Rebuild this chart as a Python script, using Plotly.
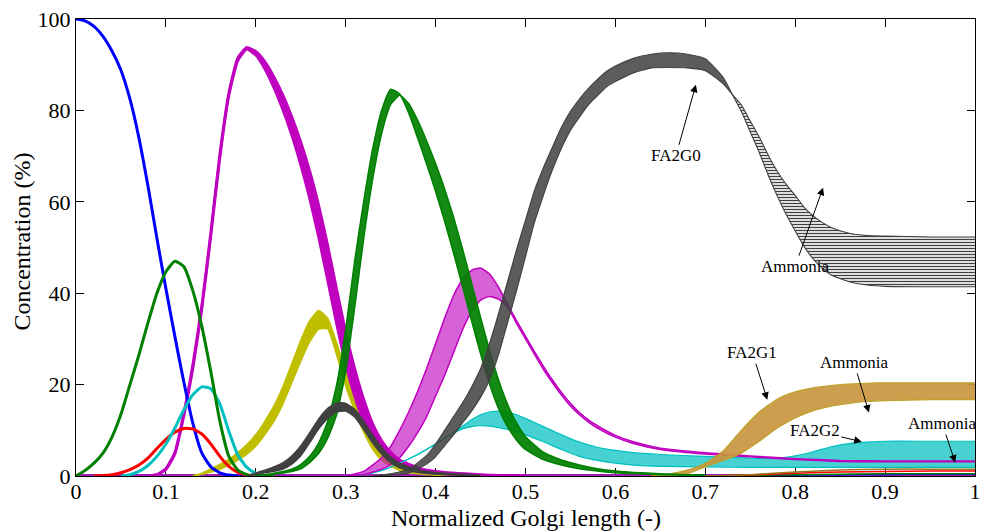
import plotly.graph_objects as go

# ---------------- data ----------------
blue_x = [0, 0.01, 0.02, 0.03, 0.04, 0.05, 0.06, 0.07, 0.08, 0.09, 0.10, 0.11, 0.12, 0.13, 0.14, 0.15, 0.16, 0.17, 0.18, 0.20]
blue_y = [100, 99.6, 98.4, 96.2, 93, 88.8, 82.5, 74, 63.5, 52, 41, 30.5, 20.5, 11.5, 5, 2, 0.7, 0.2, 0, 0]

green1_x = [0, 0.01, 0.02, 0.03, 0.04, 0.05, 0.06, 0.07, 0.08, 0.09, 0.10, 0.11, 0.12, 0.13, 0.14, 0.15, 0.16, 0.17, 0.18, 0.19, 0.20, 0.22]
green1_y = [0, 1.2, 2.8, 5, 8.5, 13.5, 20, 26.5, 33.5, 40, 44.7, 47, 45.8, 40.5, 32.7, 22.8, 12, 4.3, 1.3, 0.3, 0, 0]

red_x = [0.02, 0.03, 0.04, 0.05, 0.06, 0.07, 0.08, 0.09, 0.10, 0.11, 0.12, 0.13, 0.14, 0.15, 0.16, 0.17, 0.18, 0.19, 0.20]
red_y = [0, 0.1, 0.3, 0.7, 1.4, 2.4, 3.9, 6, 8, 9.6, 10.4, 10.3, 9.2, 7, 4.3, 2.1, 0.8, 0.2, 0]

cyan1_x = [0.05, 0.06, 0.07, 0.08, 0.09, 0.10, 0.11, 0.12, 0.13, 0.14, 0.15, 0.16, 0.17, 0.18, 0.19, 0.20, 0.21, 0.22]
cyan1_y = [0, 0.3, 1, 2.3, 4.3, 7, 10.5, 14.5, 17.8, 19.5, 19.1, 15.8, 9.8, 4.6, 1.9, 0.6, 0.1, 0]

mag1_x = [0.08, 0.09, 0.10, 0.11, 0.12, 0.13, 0.14, 0.15, 0.16, 0.17, 0.18, 0.19, 0.20, 0.21, 0.22, 0.23, 0.24,
          0.25, 0.26, 0.27, 0.28, 0.29, 0.30, 0.31, 0.32, 0.33, 0.34, 0.35, 0.36, 0.38, 0.40, 0.45, 0.50]
mag1_hi = [0, 0.3, 1.6, 5.2, 13.8, 24.4, 37.4, 53.4, 70.4, 83.8, 91.5, 93.8, 92.9, 90.7, 87.4, 83.4, 78.6,
           73.1, 66.7, 59.2, 50.4, 40.8, 31.5, 23.5, 16.8, 11.4, 7.7, 5.2, 3.5, 1.8, 1.0, 0.3, 0]
mag1_lo = [0, 0.3, 1.4, 4.8, 13.2, 23.6, 36.6, 52.6, 69.6, 83.2, 90.9, 93.4, 92.1, 89.1, 85, 80.2, 74.6,
           68.1, 60.7, 52.2, 42.8, 33.2, 24.5, 17.5, 11.8, 7.8, 5.1, 3.4, 2.3, 1.1, 0.6, 0.1, 0]

yel_x = [0.13, 0.14, 0.15, 0.16, 0.17, 0.18, 0.19, 0.20, 0.21, 0.22, 0.23, 0.24, 0.25, 0.26, 0.27, 0.28,
         0.29, 0.30, 0.31, 0.32, 0.33, 0.34, 0.35, 0.36, 0.38, 0.40, 0.45]
yel_hi = [0, 0.6, 1.5, 2.5, 3.6, 5.1, 6.8, 9, 11.9, 15.2, 19.4, 24.5, 29.6, 33.9, 36.2, 34.4,
          29, 22.8, 17.2, 12.1, 7.9, 5, 3.2, 2.1, 0.9, 0.4, 0]
yel_lo = [0, 0.4, 0.9, 1.5, 2.4, 3.5, 4.8, 6.6, 9.1, 12, 15.8, 20.5, 25.2, 29.4, 32.2, 32.2,
          26.6, 19.8, 14.4, 9.7, 5.9, 3.5, 2.2, 1.3, 0.5, 0.2, 0]

grey1_x = [0.19, 0.20, 0.21, 0.22, 0.23, 0.24, 0.25, 0.26, 0.27, 0.28, 0.29, 0.30, 0.31, 0.32, 0.33, 0.34,
           0.35, 0.36, 0.38, 0.40, 0.45]
grey1_hi = [0, 0.7, 1.3, 2, 2.9, 4.4, 6.6, 9.5, 12.5, 14.8, 16, 15.9, 14.6, 12, 9, 6.3, 4.2, 2.8, 1.4, 0.8, 0.2]
grey1_lo = [0, 0.3, 0.7, 1, 1.5, 2.6, 4.4, 7.3, 10.3, 12.6, 14, 14.2, 12.9, 10.2, 7.2, 4.8, 2.9, 1.8, 0.8, 0.4, 0]

green2_x = [0.20, 0.22, 0.24, 0.25, 0.26, 0.27, 0.28, 0.29, 0.30, 0.31, 0.32, 0.33, 0.34, 0.35, 0.36, 0.37,
            0.38, 0.39, 0.40, 0.41, 0.42, 0.43, 0.44, 0.45, 0.46, 0.47, 0.48, 0.49, 0.50, 0.52, 0.54, 0.56,
            0.58, 0.60, 0.65, 0.70]
green2_a = [0, 0.6, 1.5, 2.5, 4.3, 7.2, 12, 20, 32, 47, 60, 71.5, 80, 84.6, 83.6, 79.5,
            74, 68.3, 62.3, 55.8, 48.8, 41.5, 34, 26.8, 20.2, 14.8, 10.8, 7.9, 5.8, 3.6, 2.4, 1.6,
            1.1, 0.7, 0.3, 0.1]
green2_b = [0, 0.4, 1, 1.6, 3, 5, 8.3, 13.5, 23, 37, 52, 65, 75, 81.3, 83.3, 81.5,
            77.8, 73.3, 68.3, 62.8, 56.6, 49.6, 42.2, 34.7, 27.5, 21, 15.7, 11.6, 8.6, 5.2, 3.5, 2.4,
            1.6, 1.1, 0.5, 0.2]

mag2_x = [0.30, 0.32, 0.34, 0.35, 0.36, 0.37, 0.38, 0.39, 0.40, 0.41, 0.42, 0.43, 0.44, 0.45, 0.46, 0.47,
          0.48, 0.49, 0.50, 0.51, 0.52, 0.53, 0.54, 0.55, 0.56, 0.57, 0.58, 0.60, 0.62, 0.65, 0.70, 0.75,
          0.80, 0.85, 0.90, 0.95, 1.0]
mag2_a = [0, 1, 4, 6.5, 10, 14, 18.5, 23.5, 29, 34.5, 39.5, 43, 45, 45.5, 44.2, 41.3,
          37.6, 34, 30.6, 27.2, 24, 21, 18.3, 15.9, 13.9, 12.3, 11, 8.9, 7.5, 6.1, 5.1, 4.4,
          3.8, 3.4, 3.3, 3.3, 3.3]
mag2_b = [0, 0.3, 1.5, 2.5, 4, 6.5, 9.5, 13, 17.5, 22, 27, 32, 36, 38.5, 39.3, 38.7,
          37, 33.4, 30, 26.6, 23.3, 20.4, 17.7, 15.3, 13.4, 11.8, 10.5, 8.5, 7.1, 5.8, 4.8, 4.2,
          3.6, 3.2, 3.1, 3.1, 3.1]

cyan2_x = [0.30, 0.32, 0.34, 0.36, 0.38, 0.40, 0.42, 0.43, 0.44, 0.45, 0.46, 0.47, 0.48, 0.49, 0.50, 0.52,
           0.54, 0.56, 0.58, 0.60, 0.62, 0.65, 0.70, 0.75, 0.78, 0.80, 0.82, 0.84, 0.86, 0.88, 0.90, 0.95, 1.0]
cyan2_a = [0, 0.3, 1.2, 2.8, 4.7, 7, 9.6, 10.9, 12.3, 13.4, 14, 14.2, 14, 13.4, 12.6, 10.8,
           9, 7.4, 6.3, 5.6, 5.1, 4.7, 4.3, 3.9, 3.9, 4.4, 5.3, 6.4, 7.1, 7.4, 7.6, 7.6, 7.6]
cyan2_b = [0, 0.3, 1.2, 2.8, 4.7, 7, 9.4, 10.3, 10.8, 11, 10.9, 10.6, 10.2, 9.6, 9, 7.5,
           5.8, 4.3, 3.4, 2.8, 2.4, 2.1, 2.0, 1.9, 1.9, 1.9, 1.9, 1.9, 1.9, 1.9, 1.9, 1.9, 1.9]

grey2_x = [0.33, 0.35, 0.37, 0.39, 0.40, 0.41, 0.42, 0.43, 0.44, 0.45, 0.46, 0.47, 0.48, 0.49, 0.50, 0.51,
           0.52, 0.53, 0.54, 0.55, 0.56, 0.57, 0.58, 0.59, 0.60, 0.62, 0.64, 0.66, 0.68, 0.70, 0.72, 0.73,
           0.74, 0.75, 0.76, 0.77, 0.78, 0.79, 0.80, 0.81, 0.82, 0.83, 0.84, 0.86, 0.88, 0.90, 0.95, 1.0]
grey2_a = [0, 0.5, 1.5, 4.5, 7, 10, 13, 16, 19.5, 23.5, 29, 35.5, 42.5, 49.5, 56, 62.5,
           67.5, 72, 76.3, 79.8, 82.5, 84.8, 86.8, 88.5, 89.7, 91.4, 92.3, 92.6, 92.3, 91.3, 87.2, 83.5,
           79.8, 75.3, 70.8, 65.8, 61.3, 57.2, 53.6, 50.2, 47.5, 45.5, 44, 42.5, 41.8, 41.5, 41.4, 41.4]
grey2_b = [0, 0.2, 0.6, 2.6, 4.2, 6.6, 9, 11.6, 14.2, 17.2, 21, 26.5, 33.5, 40.5, 48, 55.5,
           61.5, 67, 71.7, 75.6, 78.5, 81.2, 83.2, 85.1, 86.3, 88.2, 89.3, 89.4, 89.3, 88.7, 85.8, 83.5,
           81.2, 77.7, 74.2, 70.2, 66.7, 63.8, 61.4, 58.8, 56.9, 55.5, 54.4, 53.1, 52.6, 52.5, 52.3, 52.3]

tan_x = [0.64, 0.66, 0.68, 0.70, 0.72, 0.74, 0.76, 0.78, 0.80, 0.82, 0.84, 0.86, 0.88, 0.90, 0.95, 1.0]
tan_a = [0, 0.5, 1.3, 2.8, 5.5, 10, 14, 16.8, 18.4, 19.3, 19.8, 20.1, 20.3, 20.4, 20.4, 20.4]
tan_b = [0, 0, 0.5, 2, 3.4, 5.0, 7.6, 10.5, 12.7, 14.3, 15.3, 15.9, 16.3, 16.5, 16.7, 16.7]

low_x = [0.70, 0.75, 0.80, 0.85, 0.90, 0.95, 1.0]
low_red = [0, 0.2, 0.6, 0.9, 1.0, 1.1, 1.1]
low_yellow = [0, 0.3, 0.9, 1.3, 1.5, 1.5, 1.5]
low_green = [0, 0.1, 0.3, 0.4, 0.5, 0.5, 0.5]
low_blue = [0, 0.05, 0.2, 0.3, 0.35, 0.4, 0.4]

base_x = [0, 1]
base_y = [0, 0]

x_ticks = [0, 0.1, 0.2, 0.3, 0.4, 0.5, 0.6, 0.7, 0.8, 0.9, 1.0]
x_ticktext = ["0", "0.1", "0.2", "0.3", "0.4", "0.5", "0.6", "0.7", "0.8", "0.9", "1"]
y_ticks = [0, 20, 40, 60, 80, 100]
y_ticktext = ["0", "20", "40", "60", "80", "100"]

x_title = "Normalized Golgi length (-)"
y_title = "Concentration (%)"

ann_text = ["FA2G0", "Ammonia", "FA2G1", "Ammonia", "FA2G2", "Ammonia"]
ann_x = [0.6895, 0.831, 0.769, 0.882, 0.874, 0.978]
ann_y = [85.6, 63.1, 16.7, 13.9, 7.5, 2.95]

# ---------------- colours ----------------
C_B = "rgb(0,0,255)"
C_G = "rgb(0,128,0)"
C_R = "rgb(255,0,0)"
C_C = "rgb(0,191,191)"
C_M = "rgb(191,0,191)"
C_Y = "rgb(191,191,0)"
C_K = "rgb(64,64,64)"
FONT = "Liberation Serif"

fig = go.Figure()


def line(x, y, color, width=3):
    fig.add_trace(go.Scatter(x=x, y=y, mode="lines", line=dict(color=color, width=width, shape="spline", smoothing=0.5),
                             hoverinfo="skip", showlegend=False))


def band(x, a, b, color, fillcolor, width=1.3, pattern=None):
    fig.add_trace(go.Scatter(x=x, y=a, mode="lines", line=dict(color=color, width=width, shape="spline", smoothing=0.5),
                             hoverinfo="skip", showlegend=False))
    kw = dict(fill="tonexty", fillcolor=fillcolor)
    if pattern is not None:
        kw["fillpattern"] = pattern
    fig.add_trace(go.Scatter(x=x, y=b, mode="lines", line=dict(color=color, width=width, shape="spline", smoothing=0.5),
                             hoverinfo="skip", showlegend=False, **kw))


line(base_x, base_y, "rgb(160,30,180)", 4)
band(yel_x, yel_hi, yel_lo, C_Y, C_Y, 1.8)
band(mag1_x, mag1_hi, mag1_lo, C_M, C_M, 2.8)
band(cyan2_x, cyan2_a, cyan2_b, C_C, "rgba(0,191,191,0.72)", 1.2)
band(mag2_x, mag2_a, mag2_b, C_M, "rgba(191,0,191,0.62)", 1.5)
band(tan_x, tan_a, tan_b, "rgb(191,160,40)", "rgba(200,150,62,0.92)", 1.2)
line(low_x, low_blue, C_B, 1.5)
line(low_x, low_green, C_G, 1.5)
line(low_x, low_red, C_R, 1.5)
line(low_x, low_yellow, "rgb(150,120,30)", 1.5)
line(blue_x, blue_y, C_B)
line(red_x, red_y, C_R)
line(cyan1_x, cyan1_y, C_C)
line(green1_x, green1_y, C_G)
band(green2_x, green2_a, green2_b, C_G, "rgba(0,128,0,0.92)", 1.6)
band(grey1_x, grey1_hi, grey1_lo, C_K, C_K, 1.4)

# FA2G0 family: dense part up to the crossing point, line-textured plateau after it
k = grey2_x.index(0.73)
band(grey2_x[:k + 1], grey2_a[:k + 1], grey2_b[:k + 1], C_K, "rgba(64,64,64,0.85)", 1.1)
band(grey2_x[k:], grey2_a[k:], grey2_b[k:], C_K, "rgba(0,0,0,0)", 1.1,
     dict(shape="-", fgcolor=C_K, bgcolor="rgba(0,0,0,0)", size=3, solidity=0.45, fillmode="replace"))

for t, xx, yy, (axp, ayp) in zip(ann_text, ann_x, ann_y,
                                 [(-20, 71), (-28, 79), (-15, -47), (-15, -50), (-47, -11), (-13, -39)]):
    fig.add_annotation(x=xx, y=yy, text=t, showarrow=True, ax=axp, ay=ayp,
                       arrowhead=2, arrowsize=1.5, arrowwidth=1, arrowcolor="black",
                       font=dict(family=FONT, size=17, color="black"))

# axis titles
fig.add_annotation(text=x_title, xref="paper", yref="paper", x=0.5, y=0, yanchor="middle",
                   yshift=-42, showarrow=False, font=dict(family=FONT, size=24, color="black"))
fig.add_annotation(text=y_title, xref="paper", yref="paper", x=0, y=0.5, xanchor="center",
                   xshift=-55, yshift=6, textangle=-90, showarrow=False,
                   font=dict(family=FONT, size=24, color="black"))

axis_common = dict(showline=True, linecolor="black", linewidth=1, mirror="ticks", ticks="inside",
                   ticklen=8, tickwidth=1, tickcolor="black", showgrid=False, zeroline=False,
                   tickfont=dict(family=FONT, size=22, color="black"), layer="below traces")

fig.update_layout(
    width=984, height=532,
    margin=dict(l=76, r=3, t=19, b=56),
    paper_bgcolor="white", plot_bgcolor="white",
    showlegend=False,
    font=dict(family=FONT, color="black"),
    xaxis=dict(range=[0, 1], tickvals=x_ticks, ticktext=x_ticktext, ticklabeloverflow="allow",
               ticklabelstandoff=-4, **axis_common),
    yaxis=dict(range=[0, 100], tickvals=y_ticks, ticktext=y_ticktext, **axis_common),
)

fig.write_html("out.html")
